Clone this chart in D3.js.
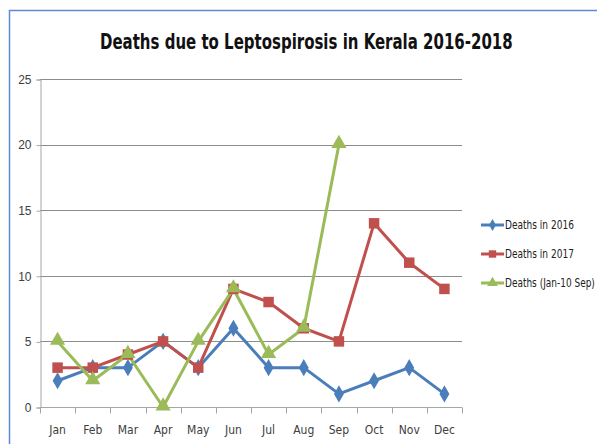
<!DOCTYPE html>
<html>
<head>
<meta charset="utf-8">
<script src="https://cdn.jsdelivr.net/npm/d3@7"></script>
<style>
  body { margin: 0; background: #fff; }
  svg { display: block; font-family: 'DejaVu Sans', sans-serif; font-stretch: condensed; }
</style>
</head>
<body>
<div id="chart"></div>
<script>
const months = ['Jan', 'Feb', 'Mar', 'Apr', 'May', 'Jun', 'Jul', 'Aug', 'Sep', 'Oct', 'Nov', 'Dec'];
const deaths2016 = [2, 3, 3, 5, 3, 6, 3, 3, 1, 2, 3, 1];
const deaths2017 = [3, 3, 4, 5, 3, 9, 8, 6, 5, 14, 11, 9];
const deaths2018 = [5, 2, 4, 0, 5, 9, 4, 6, 20];
const yTicks = [0, 5, 10, 15, 20, 25];

const series = [
  { name: 'Deaths in 2016', values: deaths2016, color: '#4a7ebb', symbol: d3.symbolDiamond, size: 85, width: 69 },
  { name: 'Deaths in 2017', values: deaths2017, color: '#c0504d', symbol: d3.symbolSquare, size: 110, width: 69 },
  { name: 'Deaths (Jan-10 Sep)', values: deaths2018, color: '#9bbb59', symbol: d3.symbolTriangle, size: 100, width: 90 }
];

const fullWidth = 597;
const fullHeight = 444;
const plot = { left: 40, right: 462, top: 79, bottom: 407 };

const svg = d3.select('#chart')
  .append('svg')
  .attr('width', fullWidth)
  .attr('height', fullHeight);

// squeeze a text horizontally so it spans `w` pixels from (x, y)
function squeeze(sel, x, y, w) {
  sel.each(function() {
    const len = this.getComputedTextLength();
    const sx = Math.min(1, w / len);
    d3.select(this).attr('transform', `translate(${x}, ${y}) scale(${sx}, 1)`);
  });
}

// chart frame (only top and left edges are in view)
svg.append('path')
  .attr('d', `M9.5,${fullHeight} V10.5 H${fullWidth}`)
  .attr('fill', 'none')
  .attr('stroke', '#5b8bd0')
  .attr('stroke-width', 1.5);

svg.append('text')
  .attr('font-size', 22)
  .attr('font-weight', 'bold')
  .attr('fill', '#111')
  .text('Deaths due to Leptospirosis in Kerala 2016-2018')
  .call(squeeze, 100, 49, 413);

const xScale = d3.scaleBand()
  .domain(months)
  .range([plot.left, plot.right]);

const yScale = d3.scaleLinear()
  .domain([0, 25])
  .range([plot.bottom, plot.top]);

// gridlines
svg.append('g')
  .selectAll('line')
  .data(yTicks.filter(t => t > 0))
  .join('line')
  .attr('x1', plot.left)
  .attr('x2', plot.right)
  .attr('y1', d => Math.round(yScale(d)) + 0.5)
  .attr('y2', d => Math.round(yScale(d)) + 0.5)
  .attr('stroke', '#8c8c8c')
  .attr('stroke-width', 1);

const yAxis = svg.append('g')
  .attr('transform', `translate(${plot.left + 0.5}, 0.5)`)
  .call(d3.axisLeft(yScale).tickValues(yTicks).tickSize(4).tickPadding(5));
yAxis.select('.domain').attr('stroke', '#a6a6a6');
yAxis.selectAll('.tick line').attr('stroke', '#a6a6a6');
yAxis.selectAll('text').attr('font-size', 12).attr('fill', '#404040')
  .attr('font-family', null);

// x axis with ticks between categories
const xAxisG = svg.append('g')
  .attr('transform', `translate(0, ${Math.round(plot.bottom) + 0.5})`);
xAxisG.append('line')
  .attr('x1', plot.left)
  .attr('x2', plot.right)
  .attr('stroke', '#a6a6a6');
xAxisG.selectAll('.tk')
  .data(months.concat(['end']))
  .join('line')
  .attr('class', 'tk')
  .attr('x1', (d, i) => Math.round(plot.left + i * xScale.step()) + 0.5)
  .attr('x2', (d, i) => Math.round(plot.left + i * xScale.step()) + 0.5)
  .attr('y1', 0)
  .attr('y2', 6)
  .attr('stroke', '#a6a6a6');
xAxisG.selectAll('text')
  .data(months)
  .join('text')
  .attr('x', d => xScale(d) + xScale.bandwidth() / 2)
  .attr('y', 26)
  .attr('text-anchor', 'middle')
  .attr('font-size', 12)
  .attr('fill', '#404040')
  .text(d => d);

const line = d3.line()
  .x((d, i) => xScale(months[i]) + xScale.bandwidth() / 2)
  .y(d => yScale(d));

series.forEach(s => {
  svg.append('path')
    .datum(s.values)
    .attr('d', line)
    .attr('fill', 'none')
    .attr('stroke', s.color)
    .attr('stroke-width', 3)
    .attr('stroke-linejoin', 'round');
});

series.forEach(s => {
  svg.append('g')
    .selectAll('path')
    .data(s.values)
    .join('path')
    .attr('d', d3.symbol().type(s.symbol).size(s.size))
    .attr('transform', (d, i) => `translate(${xScale(months[i]) + xScale.bandwidth() / 2}, ${yScale(d) + (s.symbol === d3.symbolTriangle ? -1 : 0)})`)
    .attr('fill', s.color);
});

// legend
const legend = svg.append('g')
  .attr('transform', 'translate(481, 225)');
const rows = legend.selectAll('g')
  .data(series)
  .join('g')
  .attr('transform', (d, i) => `translate(0, ${i * 29})`);
rows.append('line')
  .attr('x1', 0)
  .attr('x2', 23)
  .attr('stroke', d => d.color)
  .attr('stroke-width', 3);
rows.append('path')
  .attr('d', d => d3.symbol().type(d.symbol).size(d.size * 0.5)())
  .attr('transform', 'translate(11.5, 0)')
  .attr('fill', d => d.color);
rows.append('text')
  .attr('font-size', 11.5)
  .attr('fill', '#222')
  .text(d => d.name)
  .each(function(d) { squeeze(d3.select(this), 24, 4, d.width); });
</script>
</body>
</html>
